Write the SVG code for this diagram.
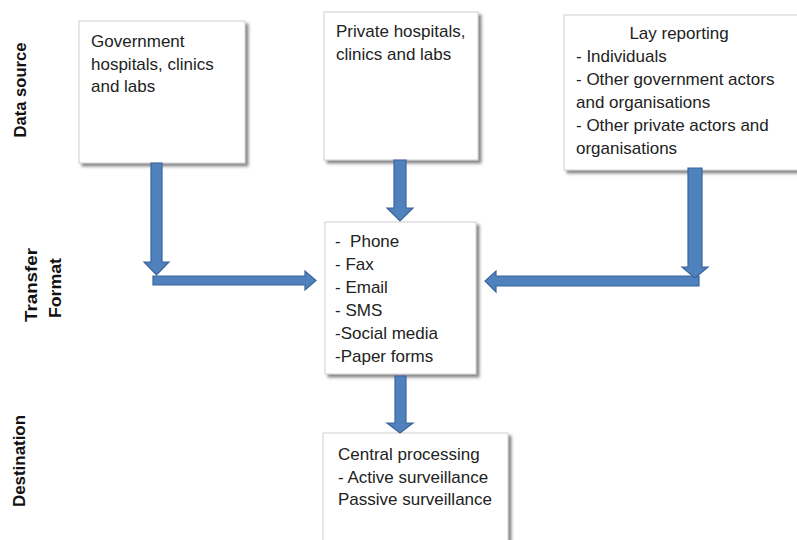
<svg xmlns="http://www.w3.org/2000/svg" width="797" height="540" viewBox="0 0 797 540">
<style>
.box{fill:#fff;stroke:#cfcfcf;stroke-width:1;filter:url(#sh)}
.t{font-family:"Liberation Sans",Arial,sans-serif;font-size:17px;fill:#222}
.lbl{font-family:"Liberation Sans",Arial,sans-serif;font-size:16px;font-weight:bold;fill:#111}
.arr{fill:#4f81bd;stroke:#3a659c;stroke-width:1.2;stroke-linejoin:miter}
</style>
<defs>
<filter id="sh" x="-10%" y="-10%" width="130%" height="130%">
<feDropShadow dx="3" dy="3" stdDeviation="1.6" flood-color="#555" flood-opacity="0.7"/>
</filter>
</defs>
<rect width="797" height="540" fill="#fff"/>

<g id="labels">
<text class="lbl" transform="translate(26,90) rotate(-90)" text-anchor="middle" textLength="95" lengthAdjust="spacingAndGlyphs">Data source</text>
<text class="lbl" transform="translate(37,285) rotate(-90)" text-anchor="middle" textLength="74" lengthAdjust="spacingAndGlyphs">Transfer</text>
<text class="lbl" transform="translate(61,288) rotate(-90)" text-anchor="middle" textLength="60" lengthAdjust="spacingAndGlyphs">Format</text>
<text class="lbl" transform="translate(25,461) rotate(-90)" text-anchor="middle" textLength="92" lengthAdjust="spacingAndGlyphs">Destination</text>
</g>

<g id="gov">
<rect class="box" x="79" y="21" width="166" height="142"/>
<text class="t" x="91" y="47">Government</text>
<text class="t" x="91" y="69.5">hospitals, clinics</text>
<text class="t" x="91" y="92">and labs</text>
</g>

<g id="private">
<rect class="box" x="324" y="12" width="154" height="148"/>
<text class="t" x="336" y="37">Private hospitals,</text>
<text class="t" x="336" y="60">clinics and labs</text>
</g>

<g id="lay">
<rect class="box" x="564" y="15" width="245" height="155"/>
<text class="t" x="679" y="39" text-anchor="middle">Lay reporting</text>
<text class="t" x="576" y="62">- Individuals</text>
<text class="t" x="576" y="85">- Other government actors</text>
<text class="t" x="576" y="108">and organisations</text>
<text class="t" x="576" y="131">- Other private actors and</text>
<text class="t" x="576" y="154">organisations</text>
</g>

<g id="transfer">
<rect class="box" x="325" y="222" width="151" height="152"/>
<text class="t" x="335" y="247" xml:space="preserve">-  Phone</text>
<text class="t" x="335" y="270">- Fax</text>
<text class="t" x="335" y="293">- Email</text>
<text class="t" x="335" y="316">- SMS</text>
<text class="t" x="335" y="339">-Social media</text>
<text class="t" x="335" y="362">-Paper forms</text>
</g>

<g id="destination">
<rect class="box" x="323" y="433" width="185" height="125"/>
<text class="t" x="338" y="460">Central processing</text>
<text class="t" x="338" y="483">- Active surveillance</text>
<text class="t" x="338" y="505">Passive surveillance</text>
</g>

<g id="connectors">
<polygon class="arr" points="394,160 406,160 406,208 413,208 400,221 387,208 394,208"/>
<polygon class="arr" points="153,276 305,276 305,271 316,280.5 305,290 305,285 153,285"/>
<polygon class="arr" points="151,163 162,163 162,262 169,262 156.5,275 144,262 151,262"/>
<polygon class="arr" points="699,276 699,286 496,286 496,292 485,281 496,271 496,276"/>
<polygon class="arr" points="688,168 702,168 702,267 708,267 695,278 682,267 688,267"/>
<polygon class="arr" points="395,376 406,376 406,423 413,423 400,433 387,423 395,423"/>
</g>
</svg>
